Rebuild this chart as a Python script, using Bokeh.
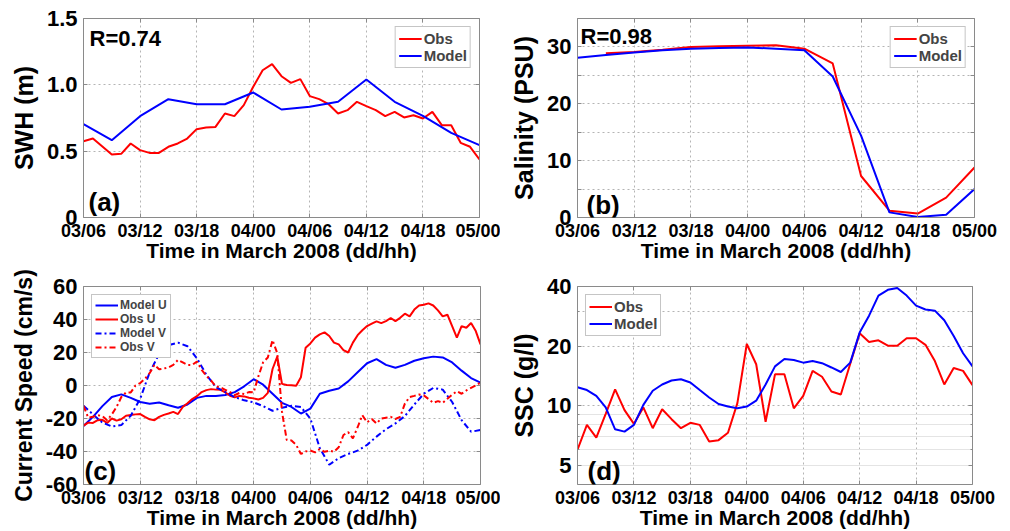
from bokeh.plotting import figure
from bokeh.models import Range1d, FixedTicker, LinearAxis, LogAxis, Label, Grid
from bokeh.layouts import column, row
from bokeh.embed import file_html
from bokeh.resources import INLINE

# ---------------------------------------------------------------- data
# time axis: hours after 03/06 (day/hour), March 2008
tick_hours = [0, 6, 12, 18, 24, 30, 36, 42]
tick_labels = ["03/06", "03/12", "03/18", "04/00", "04/06", "04/12", "04/18", "05/00"]

hours = list(range(43))
half_hours = [h / 2 for h in range(85)]

# (a) significant wave height, m
swh_obs = [0.575, 0.595, 0.535, 0.475, 0.48, 0.558, 0.508, 0.487, 0.487, 0.533,
           0.558, 0.595, 0.666, 0.678, 0.683, 0.784, 0.764, 0.847, 0.985, 1.11,
           1.156, 1.065, 1.015, 1.043, 0.915, 0.892, 0.854, 0.784, 0.809, 0.872,
           0.839, 0.809, 0.764, 0.796, 0.754, 0.771, 0.746, 0.796, 0.696, 0.696,
           0.563, 0.533, 0.437]
swh_model_hours = list(range(0, 43, 3))
swh_model = [0.704, 0.583, 0.764, 0.892, 0.854, 0.854, 0.942, 0.814, 0.834,
             0.872, 1.04, 0.872, 0.766, 0.638, 0.545]

# (b) salinity, PSU
sal_obs_hours = list(range(3, 43, 3))
sal_obs = [28.9, 29.1, 29.5, 30.0, 30.1, 30.2, 30.3, 29.7, 27.1, 7.3, 1.2, 0.7, 3.5, 8.8]
sal_model_hours = list(range(0, 43, 3))
sal_model = [28.1, 28.6, 29.0, 29.4, 29.7, 29.8, 29.9, 29.7, 29.4, 24.8, 14.4, 0.9,
             0.1, 0.5, 5.0]

# (c) current components, cm/s
model_u = [-24.5, -19, -12.5, -7, -5.4, -7.5, -10, -11, -10.3, -12, -13.5, -11.5,
           -7.5, -6.3, -6.3, -5.8, -4, -0.5, 3.8, 0.5, -5, -10.5, -13, -17, -14,
           -5, -3.2, -1.8, 2.5, 8, 13.5, 16, 12.5, 10.8, 12.5, 15, 16.5, 17.5, 17,
           14, 9, 4.5, 1.8]
model_v = [-12.3, -17.5, -22.5, -24.8, -24, -18.3, -8, 8, 19, 24.5, 26, 23.8, 16.5,
           6.5, -1, -4, -7, -9, -10.2, -12.5, -15.3, -13.5, -12.3, -13, -20, -38,
           -48, -44, -41.5, -39.5, -36, -31, -26.5, -23, -18.5, -11.5, -5, -1.5,
           -2.5, -10, -21, -28, -27]
obs_u = [-24.3, -22.5, -22.7, -21.0, -20.8, -22.7, -20.0, -21.3, -20.5, -18.3,
         -17.9, -17.5, -17.3, -19.0, -20.5, -21.0, -19.0, -17.8, -17.0, -16.0,
         -17.3, -13.0, -10.7, -8.2, -6.5, -4.0, -2.8, -2.2, -2.5, -2.6,
         -4.2, -6.2, -7.2, -6.3, -6.6, -7.4, -7.8, -8.5, -7.5, -4.5,
         10.0, 17.5, 1.0, 0.3, 0.2, -0.2, 5.0, 22.9, 25.5, 29.0,
         31.0, 32.2, 30.0, 26.0, 24.9, 21.5, 20.0, 26.0, 30.5, 33.5,
         36.0, 37.5, 38.9, 37.8, 39.0, 40.9, 39.0, 41.0, 43.5, 41.9,
         46.0, 48.5, 48.9, 49.8, 48.5, 45.5, 41.9, 42.9, 36.0, 29.0,
         36.0, 35.0, 37.9, 33.0, 24.9]
obs_v = [-12.3, -19.5, -19.0, -18.0, -18.5, -21.0, -17.5, -13.0, -7.0, -4.2,
         -4.2, 0.0, 1.5, 4.0, 7.5, 12.5, 9.8, 10.3, 11.0, 12.5,
         15.5, 14.0, 12.5, 12.5, 14.5, 9.5, 5.8, 3.0, -0.5, -1.2,
         -2.6, -4.0, -5.8, -4.5, -5.2, -4.0, -4.2, 5.5, 14.0, 17.0,
         27.5, 19.5, -16.0, -33.0, -33.3, -36.0, -41.5, -40.0, -39.4, -40.5,
         -38.5, -40.2, -39.5, -40.2, -37.4, -30.0, -28.3, -32.0, -25.3, -18.0,
         -22.3, -20.3, -23.0, -20.0, -19.5, -19.0, -20.3, -19.0, -11.0, -7.0,
         -6.3, -5.5, -6.0, -8.2, -10.5, -9.5, -10.5, -8.0, -5.5, -3.5,
         -5.0, -3.0, -1.5, 0.0, 1.8]

# (d) suspended sediment concentration, g/l
ssc_obs = [6.0, 8.0, 6.9, 9.1, 12.1, 9.5, 8.1, 9.8, 7.7, 9.6,
           8.55, 7.7, 8.2, 8.0, 6.6, 6.7, 7.3, 10.3, 20.5, 16.2,
           8.3, 14.4, 14.4, 9.7, 11.2, 15.0, 14.0, 11.8, 11.4, 16.3,
           23.2, 21.0, 21.4, 20.1, 20.1, 21.9, 21.9, 20.3, 16.8, 12.8,
           15.5, 15.0, 12.7]
ssc_model = [12.4, 12.0, 11.2, 9.8, 7.6, 7.4, 8.0, 10.1, 11.9, 12.8,
             13.4, 13.6, 13.1, 12.0, 11.0, 10.2, 9.9, 9.7, 9.9, 10.6,
             12.8, 15.8, 17.2, 17.0, 16.5, 16.8, 16.4, 15.6, 14.8, 16.5,
             23.4, 28.5, 36.0, 38.5, 39.3, 36.0, 32.0, 30.6, 30.2, 27.0,
             22.5, 18.4, 15.8]

# ---------------------------------------------------------------- styling
FONT = "Liberation Sans"
AX_COLOR = "#8a8a8a"
GRID_COLOR = "#b4b4b4"
RED = "#ff0000"
BLUE = "#0000ff"
X_TITLE = "Time in March 2008 (dd/hh)"


def style_axis(ax, size):
    ax.axis_line_color = AX_COLOR
    ax.major_tick_line_color = AX_COLOR
    ax.minor_tick_line_color = AX_COLOR
    ax.major_tick_in = 4
    ax.major_tick_out = 0
    ax.minor_tick_in = 2
    ax.minor_tick_out = 0
    ax.major_label_text_font = FONT
    ax.major_label_text_font_style = "bold"
    ax.major_label_text_font_size = size
    ax.major_label_text_color = "black"
    ax.axis_label_text_font = FONT
    ax.axis_label_text_font_style = "bold"
    ax.axis_label_text_color = "black"


def blank_axis(cls, ticker):
    ax = cls(ticker=ticker)
    style_axis(ax, "0px")
    ax.major_label_overrides = {t: "" for t in ticker.ticks}
    ax.major_label_standoff = 0
    return ax


def panel(width, height, borders, y_range, y_ticks, y_labels, y_title,
          log=False, minor=None, ylabel_size="25px"):
    left, right, top, bottom = borders
    p = figure(width=width, height=height, output_backend="svg",
               toolbar_location=None, x_range=Range1d(0, 42), y_range=y_range,
               y_axis_type="log" if log else "linear",
               min_border_left=left, min_border_right=right,
               min_border_top=top, min_border_bottom=bottom)
    p.background_fill_color = "white"
    p.border_fill_color = "white"
    p.outline_line_color = None

    xt = FixedTicker(ticks=tick_hours)
    yt = FixedTicker(ticks=y_ticks, minor_ticks=minor or [])

    xa = p.xaxis[0]
    xa.ticker = xt
    style_axis(xa, "18px")
    xa.major_label_overrides = dict(zip(tick_hours, tick_labels))
    xa.major_label_standoff = 3
    xa.axis_label = X_TITLE
    xa.axis_label_text_font_size = "21px"
    xa.axis_label_standoff = -5

    ya = p.yaxis[0]
    ya.ticker = yt
    style_axis(ya, "22px")
    ya.major_label_overrides = y_labels
    ya.major_label_standoff = 6
    ya.axis_label = y_title
    ya.axis_label_text_font_size = ylabel_size
    ya.axis_label_standoff = 6

    p.add_layout(blank_axis(LinearAxis, xt), "above")
    p.add_layout(blank_axis(LogAxis if log else LinearAxis, yt), "right")

    for g in (p.xgrid[0], p.ygrid[0]):
        g.grid_line_color = GRID_COLOR
        g.grid_line_dash = "2 3"
        g.grid_line_width = 1
    p.xgrid[0].ticker = xt
    return p


def style_legend(p, loc, size, row_h, line_h):
    lg = p.legend[0]
    lg.location = loc
    lg.margin = 8
    lg.padding = 3
    lg.spacing = 0
    lg.label_height = row_h
    lg.glyph_height = row_h
    lg.glyph_width = 23
    lg.label_standoff = 2
    lg.label_text_font = FONT
    lg.label_text_font_style = "bold"
    lg.label_text_font_size = size
    lg.label_text_line_height = line_h
    lg.border_line_color = "#8c8c8c"
    lg.border_line_width = 1
    lg.background_fill_color = "white"
    lg.background_fill_alpha = 1.0


def tag(p, text, x, y, size):
    p.add_layout(Label(x=x, y=y, x_units="screen", y_units="screen", text=text,
                       text_font=FONT, text_font_style="bold",
                       text_font_size=size, text_color="black",
                       text_baseline="alphabetic"))


# ---------------------------------------------------------------- (a) SWH
pa = panel(500, 265, (83, 21, 18, 48), Range1d(0, 1.5), [0, 0.5, 1, 1.5],
           {0: "0", 0.5: "0.5", 1: "1.0", 1.5: "1.5"}, "SWH (m)")
pa.line(hours, swh_obs, color=RED, line_width=2, legend_label="Obs")
pa.line(swh_model_hours, swh_model, color=BLUE, line_width=2, legend_label="Model")
style_legend(pa, "top_right", "15px", 15, 0.9)
tag(pa, "R=0.74", 6, 179, "22px")
tag(pa, "(a)", 5, 16, "26px")

# ---------------------------------------------------------------- (b) salinity
pb = panel(510, 265, (77, 36, 18, 46), Range1d(0, 35), list(range(0, 36, 5)),
           {0: "0", 5: "", 10: "10", 15: "", 20: "20", 25: "", 30: "30", 35: ""},
           "Salinity (PSU)")
pb.line(sal_obs_hours, sal_obs, color=RED, line_width=2, legend_label="Obs")
pb.line(sal_model_hours, sal_model, color=BLUE, line_width=2, legend_label="Model")
style_legend(pb, "top_right", "15px", 15, 0.9)
tag(pb, "R=0.98", 3, 181, "22px")
tag(pb, "(b)", 9, 13, "26px")

# ---------------------------------------------------------------- (c) currents
pc = panel(500, 266, (83, 20, 21, 45), Range1d(-60, 60), list(range(-60, 61, 20)),
           {-60: "-60", -40: "-40", -20: "-20", 0: "0", 20: "20", 40: "40", 60: "60"},
           "Current Speed (cm/s)", ylabel_size="23px")
pc.line(hours, model_u, color=BLUE, line_width=2, legend_label="Model U")
pc.line(half_hours, obs_u, color=RED, line_width=2, legend_label="Obs U")
pc.line(hours, model_v, color=BLUE, line_width=2, line_dash="6 3 2 3",
        legend_label="Model V")
pc.line(half_hours, obs_v, color=RED, line_width=2, line_dash="6 3 2 3",
        legend_label="Obs V")
style_legend(pc, "top_left", "12px", 12, 0.8)
tag(pc, "(c)", 1, 14, "26px")

# ---------------------------------------------------------------- (d) SSC
pd_ = panel(510, 266, (77, 38, 17, 45), Range1d(4, 40), [5, 10, 20, 40],
            {5: "5", 10: "10", 20: "20", 40: "40"}, "SSC (g/l)", log=True,
            minor=[6, 7, 8, 9, 30])
pd_.ygrid[0].ticker = FixedTicker(ticks=[10, 20, 30])
pd_.add_layout(Grid(dimension=1, ticker=FixedTicker(ticks=[5, 6, 7, 8, 9]),
                    grid_line_color="#e4e4e4", grid_line_width=1))
pd_.line(hours, ssc_obs, color=RED, line_width=2, legend_label="Obs")
pd_.line(hours, ssc_model, color=BLUE, line_width=2, legend_label="Model")
style_legend(pd_, "top_left", "15px", 15, 0.9)
tag(pd_, "(d)", 10, 14, "26px")

layout = column(row(pa, pb), row(pc, pd_))
with open("out.html", "w") as f:
    f.write(file_html(layout, INLINE))
